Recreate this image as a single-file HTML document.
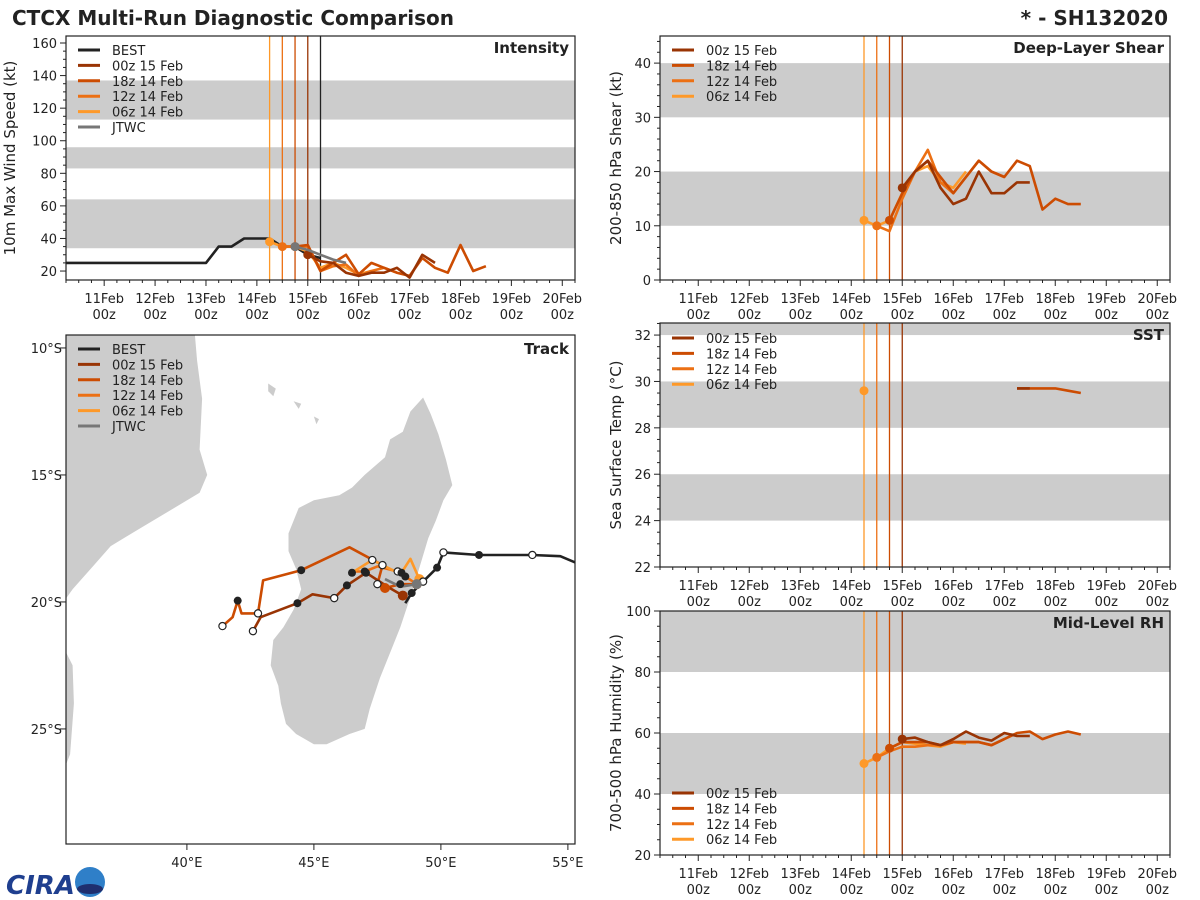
<!DOCTYPE html>
<html><head><meta charset="utf-8">
<style>
body{margin:0;background:#fff;}
svg{display:block;font-family:"DejaVu Sans","Liberation Sans",sans-serif;}
</style></head>
<body>
<svg id="fig" width="1200" height="900" viewBox="0 0 1200 900">
<text x="12" y="25" font-size="20" font-weight="bold" fill="#222">CTCX Multi-Run Diagnostic Comparison</text>
<text x="1168" y="25" font-size="20" font-weight="bold" fill="#222" text-anchor="end">* - SH132020</text>
<g>
<text x="6" y="894" font-size="26" font-weight="bold" fill="#1f3f8f" font-style="italic">CIRA</text>
<circle cx="90" cy="882" r="15" fill="#2f7fc8"/>
<ellipse cx="90" cy="889" rx="13" ry="5" fill="#1f2f6f"/>
</g>
</svg>
<script>
// ---------- data ----------
const dayTicks = [11,12,13,14,15,16,17,18,19,20];
const dayLabels = ["11Feb","12Feb","13Feb","14Feb","15Feb","16Feb","17Feb","18Feb","19Feb","20Feb"];
const initDays = [14.25,14.5,14.75,15.0];          // 06z,12z,18z 14 Feb, 00z 15 Feb
const bestInitDay = 15.25;

const tBest = [10.25,10.5,10.75,11,11.25,11.5,11.75,12,12.25,12.5,12.75,13,13.25,13.5,13.75,14,14.25,14.5,14.75,15,15.25];
const vBest = [25,25,25,25,25,25,25,25,25,25,25,25,35,35,40,40,40,35,35,30,28];
const tJtwc = [14.75,15.0,15.25,15.5,15.75];
const vJtwc = [35,33,30,27,25];
const tInt06 = [14.25,14.5,14.75,15.0,15.25,15.5,15.75,16.0,16.25];
const vInt06 = [38,35,35,32,22,25,22,18,20];
const tInt12 = [14.5,14.75,15.0,15.25,15.5,15.75,16.0,16.25,16.5,16.75];
const vInt12 = [35,35,35,20,23,24,17,20,22,19];
const tInt18 = [14.75,15.0,15.25,15.5,15.75,16.0,16.25,16.5,16.75,17.0,17.25,17.5,17.75,18.0,18.25,18.5];
const vInt18 = [35,36,20,25,30,18,25,22,19,17,28,22,19,36,20,23];
const tInt00 = [15.0,15.25,15.5,15.75,16.0,16.25,16.5,16.75,17.0,17.25,17.5];
const vInt00 = [30,26,25,19,17,19,19,22,16,30,25];

const tShr06 = [14.25,14.5,14.75,15.0,15.25,15.5,15.75,16.0,16.25];
const vShr06 = [11,10,11,16,20,21,18,17,20];
const tShr12 = [14.5,14.75,15.0,15.25,15.5,15.75,16.0,16.25,16.5,16.75,17.0];
const vShr12 = [10,9,15,20,24,18,16,19,22,20,19];
const tShr18 = [14.75,15.0,15.25,15.5,15.75,16.0,16.25,16.5,16.75,17.0,17.25,17.5,17.75,18.0,18.25,18.5];
const vShr18 = [11,16,20,22,19,16,19,22,20,19,22,21,13,15,14,14];
const tShr00 = [15.0,15.25,15.5,15.75,16.0,16.25,16.5,16.75,17.0,17.25,17.5];
const vShr00 = [17,20,22,17,14,15,20,16,16,18,18];

const tSst06 = [14.25];
const vSst06 = [29.6];
const tSst18 = [17.25,17.5,17.75,18.0,18.25,18.5];
const vSst18 = [29.7,29.7,29.7,29.7,29.6,29.5];
const tSst00 = [17.25,17.5];
const vSst00 = [29.7,29.7];

const tRh06 = [14.25,14.5,14.75,15.0,15.25,15.5,15.75,16.0,16.25];
const vRh06 = [50,52,55,57,56.5,56,55.5,57,56.5];
const tRh12 = [14.5,14.75,15.0,15.25,15.5,15.75,16.0,16.25,16.5,16.75,17.0];
const vRh12 = [52,54,55.5,55.5,56,56,57,57,57,56,58];
const tRh18 = [14.75,15.0,15.25,15.5,15.75,16.0,16.25,16.5,16.75,17.0,17.25,17.5,17.75,18.0,18.25,18.5];
const vRh18 = [55,57,57,57,56,57,57,57,56,58,60,60.5,58,59.5,60.5,59.5];
const tRh00 = [15.0,15.25,15.5,15.75,16.0,16.25,16.5,16.75,17.0,17.25,17.5];
const vRh00 = [58,58.5,57,56,58,60.5,58.5,57.5,60,59,59];

const lonBest = [55.3,54.7,53.6,51.5,50.1,49.85,49.3,48.85,48.6];
const latBest = [18.45,18.2,18.15,18.15,18.05,18.65,19.2,19.65,20.05];
const mkBest = ['','','o','f','o','f','o','f',''];
const lon00 = [48.5,47.9,47.05,46.3,45.8,44.95,44.35,42.9,42.6];
const lat00 = [19.75,19.4,18.85,19.35,19.85,19.7,20.05,20.6,21.15];
const mk00 = ['s','','f','f','o','','f','','o'];
const lon18 = [48.95,48.4,47.8,47.5,47.7,46.4,44.5,43.0,42.8,42.15,42.0,41.8,41.4];
const lat18 = [19.3,19.3,19.45,19.3,18.55,17.85,18.75,19.15,20.45,20.45,19.95,20.6,20.95];
const mk18 = ['','f','s','o','o','','f','','o','','f','','o'];
const lon12 = [49.05,48.6,48.3,47.5,47.0,46.6];
const lat12 = [19.3,19.0,18.8,18.6,18.8,18.8];
const mk12 = ['s','f','o','','f',''];
const lon06 = [49.15,48.8,48.45,48.1,47.3,46.5];
const lat06 = [19.1,18.3,18.85,18.75,18.35,18.85];
const mk06 = ['s','','f','','o','f'];
const lonJtwc = [49.05,48.4,47.8];
const latJtwc = [19.3,19.4,19.1];
const mkJtwc = ['s','',''];

// ---------- helpers ----------
const NS = "http://www.w3.org/2000/svg";
const svg = document.getElementById('fig');
const C00='#993404', C18='#cc4c02', C12='#ec7014', C06='#fe9929', CB='#222222', CJ='#777777';
const DMIN=10.25, DMAX=20.25;
function mk(tag, attrs, parent){const e=document.createElementNS(NS,tag);for(const k in attrs)e.setAttribute(k,attrs[k]);(parent||svg).appendChild(e);return e;}
function xs(p,d){return p.x0+(d-DMIN)/(DMAX-DMIN)*(p.x1-p.x0);}
function ys(p,v){return p.y1-(v-p.v0)/(p.v1-p.v0)*(p.y1-p.y0);}

function panel(p){
  const g = mk('g',{});
  
  
  p.bands.forEach(b=>{
    const r = mk('rect',{x:p.x0,y:ys(p,Math.min(b[1],p.v1)),width:p.x1-p.x0,height:ys(p,b[0])-ys(p,Math.min(b[1],p.v1)),fill:'#cccccc'},g);
    
    
  });
  const vcols=[C06,C12,C18,C00];
  initDays.forEach((d,i)=>{
    const l = mk('line',{x1:xs(p,d),x2:xs(p,d),y1:p.y0,y2:p.y1,stroke:vcols[i],'stroke-width':1.3},g);
    
    
  });
  if(p.bestLine){
    const l = mk('line',{x1:xs(p,bestInitDay),x2:xs(p,bestInitDay),y1:p.y0,y2:p.y1,stroke:CB,'stroke-width':1.3},g);
    
    
  }
  p.series.forEach(s=>{
    const pts = s.t.map((d,i)=>xs(p,d).toFixed(1)+','+ys(p,s.v[i]).toFixed(1)).join(' ');
    if(s.t.length>1){
      const pl = mk('polyline',{points:pts,fill:'none',stroke:s.c,'stroke-width':2.6,'stroke-linejoin':'round'},g);
      
      
    }
    if(s.m){
      const c = mk('circle',{cx:xs(p,s.t[0]),cy:ys(p,s.v[0]),r:4.5,fill:s.c},g);
      
      
    }
  });
  // frame
  mk('rect',{x:p.x0,y:p.y0,width:p.x1-p.x0,height:p.y1-p.y0,fill:'none',stroke:'#222','stroke-width':1.2},g);
  // y ticks
  for(let v=p.tick0; v<=p.v1+1e-6; v+=p.minor){
    const y=ys(p,v); if(y<p.y0-0.5) continue;
    const major = Math.abs(((v-p.tick0)/p.step)-Math.round((v-p.tick0)/p.step))<1e-6;
    mk('line',{x1:p.x0-(major?6:3),x2:p.x0,y1:y,y2:y,stroke:'#222','stroke-width':1},g);
    if(major){
      const t = mk('text',{x:p.x0-9,y:y+5,'font-size':13,'text-anchor':'end',fill:'#222'},g);
      t.textContent = String(v);
      
      
    }
  }
  // x ticks
  for(let d=10.25; d<=20.25+1e-6; d+=0.25){
    const x=xs(p,d); const major=Math.abs(d-Math.round(d))<1e-6;
    mk('line',{x1:x,x2:x,y1:p.y1,y2:p.y1+(major?6:3),stroke:'#222','stroke-width':1},g);
  }
  dayTicks.forEach((d,i)=>{
    const x=xs(p,d);
    const t1 = mk('text',{x:x,y:p.y1+23,'font-size':13,'text-anchor':'middle',fill:'#222'},g);
    t1.textContent = dayLabels[i];
    
    
    const t2 = mk('text',{x:x,y:p.y1+39,'font-size':13,'text-anchor':'middle',fill:'#222'},g);
    t2.textContent = '00z';
    
    
  });
  const yl = mk('text',{x:0,y:0,'font-size':15,'text-anchor':'middle',fill:'#222',transform:`translate(${p.ylx},${(p.y0+p.y1)/2}) rotate(-90)`},g);
  yl.textContent = p.ylabel;
  
  
  const tt = mk('text',{x:p.x1-6,y:p.y0+17,'font-size':15,'font-weight':'bold','text-anchor':'end',fill:'#222'},g);
  tt.textContent = p.title;
  
  
  legend(g,p.x0+12,p.legY,p.legend);
}
function legend(g,x,y,items){
  items.forEach((it,i)=>{
    const yy=y+i*15.4;
    const l = mk('line',{x1:x,x2:x+22,y1:yy,y2:yy,stroke:it[1],'stroke-width':3},g);
    
    
    const t = mk('text',{x:x+34,y:yy+5,'font-size':13,fill:'#222'},g);
    t.textContent = it[0];
    
    
  });
}
const L4 = [['00z 15 Feb',C00],['18z 14 Feb',C18],['12z 14 Feb',C12],['06z 14 Feb',C06]];
const L6 = [['BEST',CB]].concat(L4).concat([['JTWC',CJ]]);

panel({name:'intensity-panel',x0:66,x1:575,y0:36,y1:280,v0:14.5,v1:164.3,tick0:20,step:20,minor:5,
  bands:[[34,64],[83,96],[113,137]],bestLine:true,ylx:15,ylabel:'10m Max Wind Speed (kt)',title:'Intensity',legY:50,legend:L6,
  series:[{t:tBest,v:vBest,c:CB,n:'best-intensity'},
          {t:tInt06,v:vInt06,c:C06,n:'int-06z',m:1},{t:tInt12,v:vInt12,c:C12,n:'int-12z',m:1},
          {t:tInt18,v:vInt18,c:C18,n:'int-18z',m:1},{t:tInt00,v:vInt00,c:C00,n:'int-00z',m:1},
          {t:tJtwc,v:vJtwc,c:CJ,n:'jtwc-intensity',m:1}]});
panel({name:'shear-panel',x0:660,x1:1170,y0:36,y1:280,v0:0,v1:45,tick0:0,step:10,minor:2,
  bands:[[10,20],[30,40]],ylx:621,ylabel:'200-850 hPa Shear (kt)',title:'Deep-Layer Shear',legY:50,legend:L4,
  series:[{t:tShr06,v:vShr06,c:C06,n:'shear-06z',m:1},{t:tShr12,v:vShr12,c:C12,n:'shear-12z',m:1},
          {t:tShr18,v:vShr18,c:C18,n:'shear-18z',m:1},{t:tShr00,v:vShr00,c:C00,n:'shear-00z',m:1}]});
panel({name:'sst-panel',x0:660,x1:1170,y0:323,y1:567,v0:22,v1:32.52,tick0:22,step:2,minor:0.5,
  bands:[[24,26],[28,30],[32,34]],ylx:621,ylabel:'Sea Surface Temp (°C)',title:'SST',legY:338,legend:L4,
  series:[{t:tSst06,v:vSst06,c:C06,n:'sst-06z',m:1},{t:tSst18,v:vSst18,c:C18,n:'sst-18z'},
          {t:tSst00,v:vSst00,c:C00,n:'sst-00z'}]});
panel({name:'rh-panel',x0:660,x1:1170,y0:611,y1:855,v0:20,v1:100,tick0:20,step:20,minor:5,
  bands:[[40,60],[80,100]],ylx:621,ylabel:'700-500 hPa Humidity (%)',title:'Mid-Level RH',legY:793,legend:L4,
  series:[{t:tRh06,v:vRh06,c:C06,n:'rh-06z',m:1},{t:tRh12,v:vRh12,c:C12,n:'rh-12z',m:1},
          {t:tRh18,v:vRh18,c:C18,n:'rh-18z',m:1},{t:tRh00,v:vRh00,c:C00,n:'rh-00z',m:1}]});

// ---------- track map ----------
const M={x0:66,x1:575,y0:335,y1:844,lon0:35.24,lon1:55.28,lat0:9.49,lat1:29.53};
function mx(l){return M.x0+(l-M.lon0)/(M.lon1-M.lon0)*(M.x1-M.x0);}
function my(l){return M.y0+(l-M.lat0)/(M.lat1-M.lat0)*(M.y1-M.y0);}
const tg = mk('g',{});


mk('clipPath',{id:'mclip'},tg).appendChild(Object.assign(document.createElementNS(NS,'rect'),{}));
const cr = tg.querySelector('#mclip rect');
cr.setAttribute('x',M.x0);cr.setAttribute('y',M.y0);cr.setAttribute('width',M.x1-M.x0);cr.setAttribute('height',M.y1-M.y0);
const land = mk('g',{'clip-path':'url(#mclip)'},tg);
const polys = [
 [[49.3,11.95],[49.6,12.6],[49.9,13.4],[50.2,14.4],[50.45,15.4],[50.1,16.0],[49.8,16.8],[49.5,17.5],[49.2,18.5],[48.8,19.8],[48.4,21.0],[48.0,22.0],[47.6,23.0],[47.2,24.2],[47.0,25.0],[46.4,25.2],[45.5,25.6],[45.0,25.6],[44.3,25.2],[43.9,24.8],[43.7,24.0],[43.6,23.3],[43.3,22.5],[43.4,21.5],[43.8,21.0],[44.2,20.3],[44.5,19.5],[44.3,18.7],[44.0,18.0],[44.0,17.3],[44.4,16.3],[45.0,16.0],[46.0,15.8],[46.5,15.5],[47.0,15.0],[47.8,14.3],[48.0,13.6],[48.5,13.3],[48.8,12.5]],
 [[35.0,9.3],[40.3,9.3],[40.4,10.5],[40.6,12],[40.5,14],[40.8,15],[40.5,15.7],[39.5,16.3],[38.0,17.2],[37.0,17.8],[36.3,18.6],[35.5,19.5],[35.0,20.2]],
 [[35.0,21.5],[35.5,22.5],[35.55,24],[35.4,26],[35.0,27]],
 [[43.2,11.4],[43.5,11.6],[43.4,11.9],[43.2,11.7]],[[44.2,12.1],[44.5,12.2],[44.4,12.4]],[[45.0,12.7],[45.2,12.8],[45.1,13.0]]
];
polys.forEach((pp,i)=>{
  const pg = mk('polygon',{points:pp.map(q=>mx(q[0]).toFixed(1)+','+my(q[1]).toFixed(1)).join(' '),fill:'#cccccc'},land);
  
  
});
const tracks=[[lon18,lat18,mk18,C18,'track-18z'],[lon12,lat12,mk12,C12,'track-12z'],[lon06,lat06,mk06,C06,'track-06z'],
              [lon00,lat00,mk00,C00,'track-00z'],[lonBest,latBest,mkBest,CB,'track-best'],[lonJtwc,latJtwc,mkJtwc,CJ,'track-jtwc']];
const tl = mk('g',{'clip-path':'url(#mclip)'},tg);
tracks.forEach(tr=>{
  const pl = mk('polyline',{points:tr[0].map((l,i)=>mx(l).toFixed(1)+','+my(tr[1][i]).toFixed(1)).join(' '),fill:'none',stroke:tr[3],'stroke-width':2.6,'stroke-linejoin':'round'},tl);
  
  
});
tracks.forEach(tr=>{
  tr[2].forEach((k,i)=>{
    if(!k) return;
    const at = k==='f'?{r:4,fill:'#222'}:k==='o'?{r:3.6,fill:'#fff',stroke:'#222','stroke-width':1.2}:{r:5,fill:tr[3]};
    at.cx=mx(tr[0][i]); at.cy=my(tr[1][i]);
    const c = mk('circle',at,tl);
    
    
  });
});
mk('rect',{x:M.x0,y:M.y0,width:M.x1-M.x0,height:M.y1-M.y0,fill:'none',stroke:'#222','stroke-width':1.2},tg);
[10,15,20,25].forEach(l=>{
  const y=my(l);
  mk('line',{x1:M.x0-6,x2:M.x0,y1:y,y2:y,stroke:'#222'},tg);
  const t = mk('text',{x:M.x0-4,y:y+5,'font-size':13,'text-anchor':'end',fill:'#222'},tg);
  t.textContent = l+'°S';
  
  
});
[40,45,50,55].forEach(l=>{
  const x=mx(l);
  mk('line',{x1:x,x2:x,y1:M.y1,y2:M.y1+6,stroke:'#222'},tg);
  const t = mk('text',{x:x,y:M.y1+23,'font-size':13,'text-anchor':'middle',fill:'#222'},tg);
  t.textContent = l+'°E';
  
  
});
const ttl = mk('text',{x:M.x1-6,y:M.y0+19,'font-size':15,'font-weight':'bold','text-anchor':'end',fill:'#222'},tg);
ttl.textContent='Track';


legend(tg,M.x0+12,349,L6);
</script>
</body></html>
